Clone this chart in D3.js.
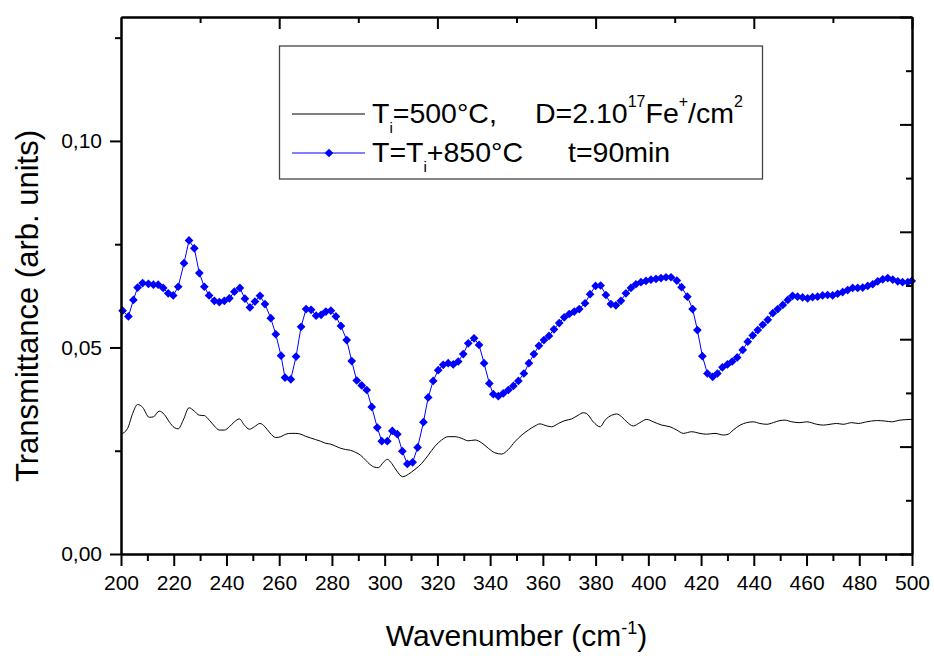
<!DOCTYPE html>
<html>
<head>
<meta charset="utf-8">
<script src="https://cdn.jsdelivr.net/npm/d3@7"></script>
<style>
  body { margin: 0; background: #fff; }
  svg { font-family: "Liberation Sans", Arial, sans-serif; }
</style>
</head>
<body>
<svg id="chart" width="934" height="658"></svg>
<script>
// annealed sample (blue, with markers)
var annealX = [200.6, 202.8, 204.7, 206.3, 208.2, 210.4, 212.3, 214.1, 216.0, 217.9, 219.8, 221.7, 223.9, 225.8, 227.8, 229.7,
  231.6, 233.4, 235.4, 237.3, 239.2, 241.1, 243.0, 245.1, 247.0, 248.9, 250.8, 252.7, 254.6, 256.8, 258.7, 260.7,
  262.2, 264.4, 266.4, 268.3, 270.2, 272.1, 274.0, 275.9, 277.7, 279.6, 281.5, 283.4, 285.6, 287.5, 289.4, 291.3,
  293.2, 295.1, 297.2, 298.9, 301.0, 302.9, 304.8, 306.7, 308.6, 310.6, 312.5, 314.7, 316.5, 318.4, 320.3, 322.2,
  324.1, 326.0, 327.9, 329.8, 331.7, 333.9, 335.8, 337.7, 339.7, 341.2, 343.1, 345.0, 346.9, 348.8, 350.7, 352.8,
  354.7, 356.6, 358.5, 360.4, 362.3, 364.2, 366.2, 368.1, 370.0, 371.9, 373.8, 376.0, 377.9, 380.0, 381.9, 383.9,
  385.8, 387.7, 389.6, 391.5, 393.4, 395.3, 397.2, 399.1, 401.0, 402.9, 404.8, 406.7, 408.6, 410.8, 412.6, 414.8,
  416.8, 418.6, 420.5, 422.4, 424.4, 426.2, 428.1, 430.0, 431.8, 433.7, 435.8, 437.7, 439.6, 441.5, 443.4, 445.3,
  447.2, 449.1, 451.0, 452.9, 454.7, 456.6, 458.5, 460.4, 462.3, 464.2, 466.1, 468.0, 469.9, 471.8, 473.7, 475.6,
  477.5, 479.4, 481.3, 483.2, 485.1, 487.0, 488.9, 490.8, 492.7, 494.6, 496.4, 498.4, 499.9];
var annealY = [0.0589, 0.0575, 0.0615, 0.0645, 0.0656, 0.0654, 0.0652, 0.0652, 0.0644, 0.0631, 0.0626, 0.0647, 0.0704, 0.0759, 0.0740, 0.0680,
  0.0647, 0.0626, 0.0613, 0.0610, 0.0613, 0.0619, 0.0635, 0.0644, 0.0618, 0.0597, 0.0611, 0.0625, 0.0605, 0.0571, 0.0532, 0.0480,
  0.0427, 0.0423, 0.0478, 0.0550, 0.0593, 0.0591, 0.0577, 0.0579, 0.0587, 0.0589, 0.0575, 0.0552, 0.0518, 0.0467, 0.0420, 0.0408,
  0.0397, 0.0356, 0.0306, 0.0273, 0.0273, 0.0298, 0.0290, 0.0249, 0.0218, 0.0222, 0.0258, 0.0319, 0.0379, 0.0419, 0.0445, 0.0458,
  0.0462, 0.0459, 0.0466, 0.0484, 0.0510, 0.0522, 0.0506, 0.0462, 0.0413, 0.0387, 0.0382, 0.0389, 0.0397, 0.0407, 0.0419, 0.0437,
  0.0462, 0.0484, 0.0504, 0.0518, 0.0528, 0.0544, 0.0559, 0.0573, 0.0581, 0.0587, 0.0593, 0.0607, 0.0629, 0.0649, 0.0650, 0.0627,
  0.0605, 0.0602, 0.0613, 0.0631, 0.0644, 0.0653, 0.0658, 0.0661, 0.0664, 0.0666, 0.0668, 0.0670, 0.0670, 0.0662, 0.0646, 0.0623,
  0.0593, 0.0542, 0.0479, 0.0437, 0.0429, 0.0437, 0.0452, 0.0459, 0.0466, 0.0476, 0.0494, 0.0514, 0.0529, 0.0542, 0.0555, 0.0567,
  0.0583, 0.0593, 0.0603, 0.0615, 0.0625, 0.0623, 0.0621, 0.0619, 0.0622, 0.0623, 0.0626, 0.0627, 0.0626, 0.0630, 0.0634, 0.0639,
  0.0644, 0.0644, 0.0645, 0.0649, 0.0653, 0.0660, 0.0665, 0.0668, 0.0664, 0.0660, 0.0658, 0.0658, 0.0661];

// as-implanted sample (black line)
var implX = [200.0, 202.5, 204.4, 206.3, 208.2, 210.7, 212.3, 214.5, 216.4, 218.3, 220.2, 221.7, 223.6, 225.8, 227.8, 229.7,
  231.6, 233.5, 235.4, 237.3, 239.2, 241.1, 243.0, 244.9, 246.8, 248.7, 250.6, 252.7, 254.6, 256.5, 258.7, 260.6,
  262.5, 264.4, 266.3, 268.2, 270.0, 271.9, 273.8, 275.7, 277.6, 279.5, 281.4, 283.3, 285.2, 287.1, 289.0, 290.9,
  292.8, 294.4, 296.3, 297.6, 299.5, 301.0, 302.7, 304.6, 306.8, 309.0, 311.5, 314.0, 316.5, 319.1, 321.6, 324.1,
  326.7, 329.2, 331.7, 334.3, 336.8, 339.3, 341.8, 344.4, 346.9, 349.4, 352.0, 354.5, 357.0, 358.9, 361.5, 363.3,
  365.9, 368.4, 370.9, 373.4, 375.3, 376.6, 379.1, 381.7, 383.6, 386.1, 388.0, 389.9, 391.8, 394.3, 396.8, 399.4,
  401.9, 405.1, 408.2, 410.8, 413.3, 416.4, 419.6, 422.1, 425.3, 428.4, 430.3, 432.2, 434.8, 437.3, 439.8, 442.3,
  444.9, 447.4, 449.9, 451.8, 454.4, 457.5, 460.1, 463.9, 466.4, 468.9, 471.4, 473.9, 477.1, 479.6, 482.8, 486.6,
  489.7, 492.3, 495.4, 500.0];
var implY = [0.0290, 0.0304, 0.0340, 0.0362, 0.0355, 0.0331, 0.0332, 0.0346, 0.0338, 0.0320, 0.0306, 0.0303, 0.0324, 0.0354, 0.0346, 0.0336,
  0.0335, 0.0324, 0.0310, 0.0300, 0.0300, 0.0308, 0.0320, 0.0327, 0.0312, 0.0302, 0.0308, 0.0316, 0.0308, 0.0293, 0.0282, 0.0284,
  0.0290, 0.0292, 0.0292, 0.0290, 0.0285, 0.0281, 0.0277, 0.0273, 0.0268, 0.0266, 0.0261, 0.0256, 0.0253, 0.0251, 0.0246, 0.0239,
  0.0227, 0.0217, 0.0210, 0.0209, 0.0222, 0.0229, 0.0219, 0.0201, 0.0187, 0.0193, 0.0205, 0.0219, 0.0239, 0.0261, 0.0276, 0.0284,
  0.0284, 0.0280, 0.0274, 0.0276, 0.0269, 0.0256, 0.0245, 0.0242, 0.0253, 0.0272, 0.0288, 0.0300, 0.0310, 0.0315, 0.0310, 0.0308,
  0.0316, 0.0323, 0.0327, 0.0336, 0.0342, 0.0340, 0.0320, 0.0308, 0.0324, 0.0336, 0.0339, 0.0332, 0.0320, 0.0310, 0.0318, 0.0326,
  0.0320, 0.0312, 0.0308, 0.0300, 0.0292, 0.0296, 0.0292, 0.0290, 0.0292, 0.0288, 0.0290, 0.0300, 0.0312, 0.0318, 0.0320, 0.0316,
  0.0314, 0.0318, 0.0323, 0.0324, 0.0320, 0.0318, 0.0320, 0.0314, 0.0312, 0.0314, 0.0316, 0.0314, 0.0318, 0.0316, 0.0320, 0.0323,
  0.0322, 0.0320, 0.0324, 0.0326];

var xMajor = [200, 220, 240, 260, 280, 300, 320, 340, 360, 380, 400, 420, 440, 460, 480, 500];
var xMinor = [210, 230, 250, 270, 290, 310, 330, 350, 370, 390, 410, 430, 450, 470, 490];
var yMajor = [0, 0.05, 0.10];
var yMinor = [0.025, 0.075, 0.125];
var topMajor = [260, 320, 380, 440, 500];
var topMinor = [230, 290, 350, 410, 470];
var rightMajor = [0, 2, 4, 6, 8, 10];
var rightMinor = [1, 3, 5, 7, 9];

(function() {
var svg = d3.select('#chart');
var pLeft = 121, pRight = 912, pTop = 17, pBottom = 554;

var x = d3.scaleLinear().domain([200, 500]).range([pLeft, pRight]);
var y = d3.scaleLinear().domain([0, 0.13]).range([pBottom, pTop]);
var yR = d3.scaleLinear().domain([0, 10]).range([pBottom, pTop]);

var comma = function(d) { return d3.format('.2f')(d).replace('.', ','); };

// series
var implData = implX.map(function(d, i) { return [d, implY[i]]; });
var annealData = annealX.map(function(d, i) { return [d, annealY[i]]; });

var line = d3.line().x(function(d) { return x(d[0]); }).y(function(d) { return y(d[1]); });

svg.append('path').datum(implData)
    .attr('d', line.curve(d3.curveMonotoneX))
    .attr('fill', 'none').attr('stroke', '#000').attr('stroke-width', 1);

svg.append('path').datum(annealData)
    .attr('d', line.curve(d3.curveLinear))
    .attr('fill', 'none').attr('stroke', '#0000ff').attr('stroke-width', 1);

var diamond = d3.symbol().type(d3.symbolSquare).size(38);
svg.append('g').selectAll('path').data(annealData).enter()
    .append('path')
    .attr('d', diamond)
    .attr('transform', function(d) { return 'translate(' + x(d[0]) + ',' + y(d[1]) + ') rotate(45)'; })
    .attr('fill', '#0000ff');

// axes
function styleAxis(g) {
    g.select('.domain').attr('stroke', '#000').attr('stroke-width', 2);
    g.selectAll('.tick line').attr('stroke', '#000').attr('stroke-width', 2);
    g.selectAll('.tick text').attr('fill', '#000').attr('font-size', 21)
        .attr('font-family', '"Liberation Sans", Arial, sans-serif');
}

var gx = svg.append('g').attr('transform', 'translate(0,' + pBottom + ')')
    .call(d3.axisBottom(x).tickValues(xMajor).tickSize(12).tickSizeOuter(0).tickPadding(9).tickFormat(d3.format('d')));
styleAxis(gx);
var gxm = svg.append('g').attr('transform', 'translate(0,' + pBottom + ')')
    .call(d3.axisBottom(x).tickValues(xMinor).tickSize(7).tickSizeOuter(0).tickFormat(''));
styleAxis(gxm);

var gy = svg.append('g').attr('transform', 'translate(' + pLeft + ',0)')
    .call(d3.axisLeft(y).tickValues(yMajor).tickSize(11).tickSizeOuter(0).tickPadding(8).tickFormat(comma));
styleAxis(gy);
var gym = svg.append('g').attr('transform', 'translate(' + pLeft + ',0)')
    .call(d3.axisLeft(y).tickValues(yMinor).tickSize(6).tickSizeOuter(0).tickFormat(''));
styleAxis(gym);

var gt = svg.append('g').attr('transform', 'translate(0,' + pTop + ')')
    .call(d3.axisTop(x).tickValues(topMajor).tickSize(-12).tickSizeOuter(0).tickFormat(''));
styleAxis(gt);
var gtm = svg.append('g').attr('transform', 'translate(0,' + pTop + ')')
    .call(d3.axisTop(x).tickValues(topMinor).tickSize(-6).tickSizeOuter(0).tickFormat(''));
styleAxis(gtm);

var gr = svg.append('g').attr('transform', 'translate(' + pRight + ',0)')
    .call(d3.axisRight(yR).tickValues(rightMajor).tickSize(-12).tickSizeOuter(0).tickFormat(''));
styleAxis(gr);
var grm = svg.append('g').attr('transform', 'translate(' + pRight + ',0)')
    .call(d3.axisRight(yR).tickValues(rightMinor).tickSize(-6).tickSizeOuter(0).tickFormat(''));
styleAxis(grm);

// axis titles
var xt = svg.append('text').attr('x', (pLeft + pRight) / 2).attr('y', 646)
    .attr('text-anchor', 'middle').attr('font-size', 30).attr('fill', '#000');
xt.append('tspan').text('Wavenumber (cm');
xt.append('tspan').attr('dy', -12).attr('font-size', 18).text('-1');
xt.append('tspan').attr('dy', 12).text(')');

svg.append('text').attr('transform', 'translate(38,306) rotate(-90)')
    .attr('text-anchor', 'middle').attr('font-size', 31).attr('fill', '#000')
    .text('Transmittance (arb. units)');

// legend
var lg = svg.append('g');
lg.append('rect').attr('x', 279.5).attr('y', 46).attr('width', 483).attr('height', 133)
    .attr('fill', '#fff').attr('stroke', '#444').attr('stroke-width', 1.3);

lg.append('line').attr('x1', 292).attr('x2', 365).attr('y1', 114).attr('y2', 114)
    .attr('stroke', '#000').attr('stroke-width', 1);
lg.append('line').attr('x1', 292).attr('x2', 365).attr('y1', 153).attr('y2', 153)
    .attr('stroke', '#0000ff').attr('stroke-width', 1);
lg.append('path').attr('d', diamond).attr('transform', 'translate(329,153) rotate(45)').attr('fill', '#0000ff');

var fs = 28.5, subDy = 9.5;
var t1 = lg.append('text').attr('x', 372).attr('y', 123).attr('font-size', fs).attr('fill', '#000');
t1.append('tspan').text('T');
t1.append('tspan').attr('dy', subDy).attr('font-size', 15).text('i');
t1.append('tspan').attr('dy', -subDy).text('=500°C,');

var t1b = lg.append('text').attr('x', 535).attr('y', 123).attr('font-size', fs).attr('fill', '#000');
t1b.append('tspan').text('D=2.10');
t1b.append('tspan').attr('dy', -16).attr('font-size', 16).text('17');
t1b.append('tspan').attr('dy', 16).text('Fe');
t1b.append('tspan').attr('dy', -16).attr('font-size', 16).text('+');
t1b.append('tspan').attr('dy', 16).text('/cm');
t1b.append('tspan').attr('dy', -16).attr('font-size', 16).text('2');

var t2 = lg.append('text').attr('x', 372).attr('y', 162).attr('font-size', fs).attr('fill', '#000');
t2.append('tspan').text('T=T');
t2.append('tspan').attr('dy', subDy).attr('font-size', 15).text('i');
t2.append('tspan').attr('dy', -subDy).text('+850°C');

lg.append('text').attr('x', 568).attr('y', 162).attr('font-size', fs).attr('fill', '#000').text('t=90min');
})();
</script>
</body>
</html>
